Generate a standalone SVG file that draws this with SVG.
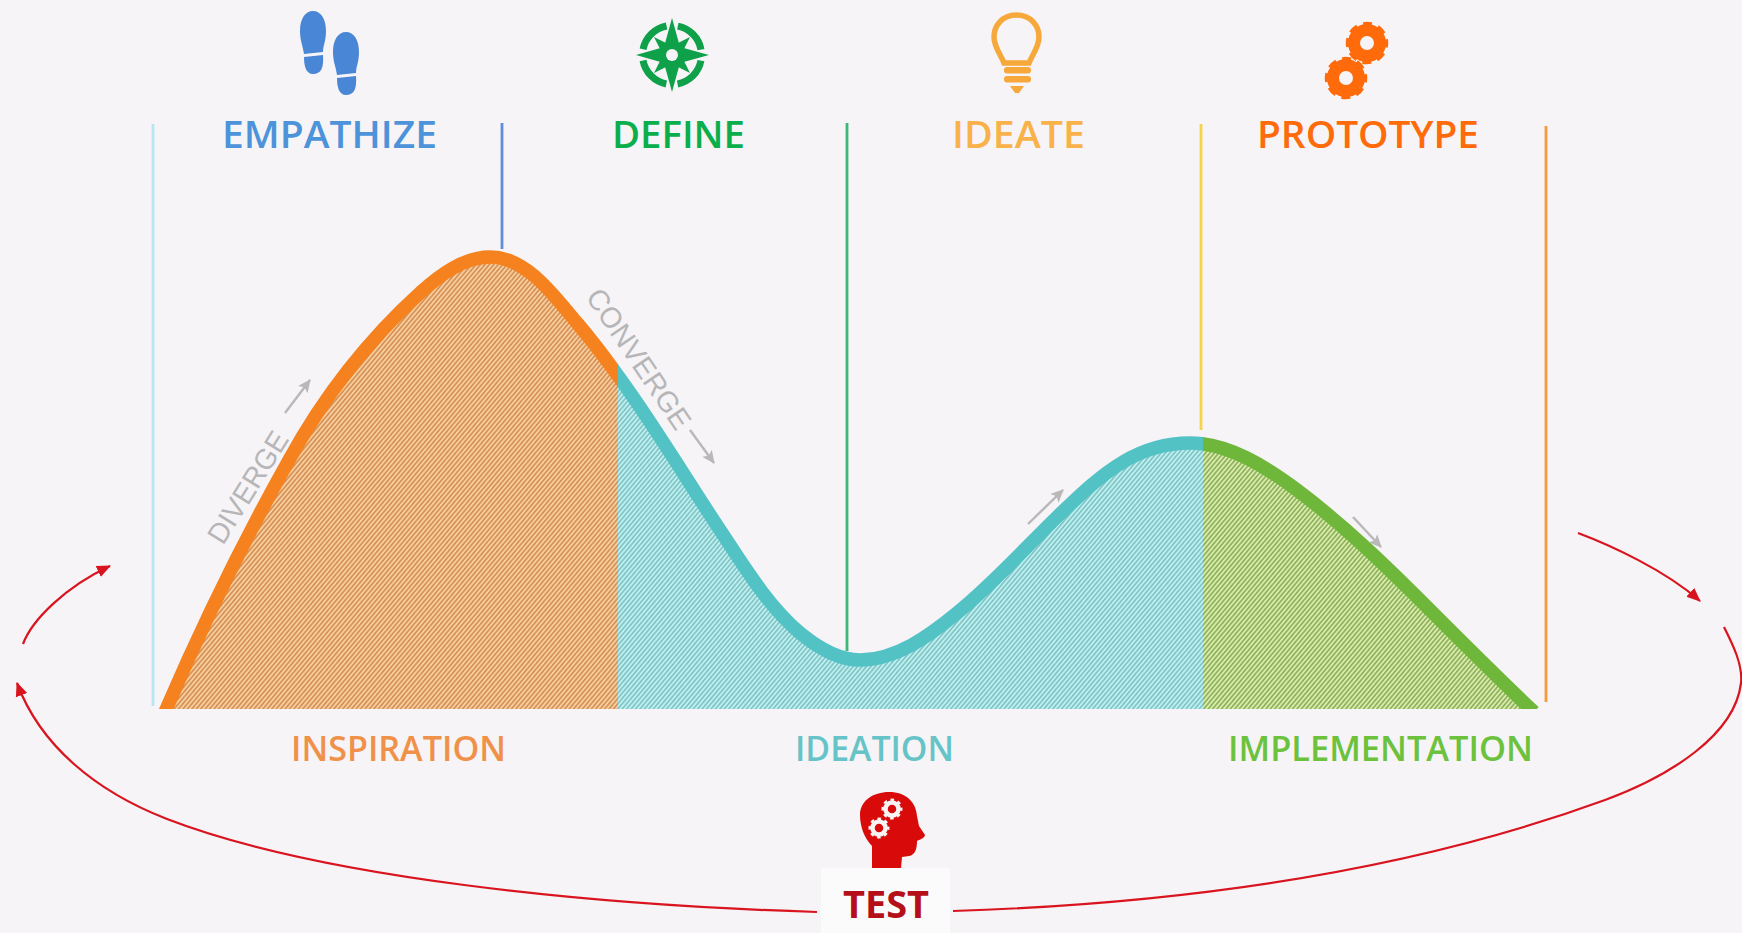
<svg xmlns="http://www.w3.org/2000/svg" xmlns:xlink="http://www.w3.org/1999/xlink" width="1742" height="933" viewBox="0 0 1742 933">
<style>
.h{font-family:"Open Sans","Liberation Sans",sans-serif;font-weight:600;font-size:38px}
.l{font-family:"Open Sans","Liberation Sans",sans-serif;font-weight:600;font-size:35px}
.g{font-family:"Liberation Sans",Arial,sans-serif;font-size:29px;fill:#b6b6b8}
.v{stroke-width:2.8;fill:none}
.r{fill:none;stroke:#d9141e;stroke-width:2.2}
.a{stroke:#b8b8b8;stroke-width:2.4;fill:none;marker-end:url(#ga)}
.c{fill:none;stroke-width:13.5}
</style>
<defs>
<pattern id="po" patternUnits="userSpaceOnUse" width="3.4" height="8" patternTransform="rotate(40)"><rect width="3.4" height="8" fill="#fbd2a2"/><rect width="1.8" height="8" fill="#d5935a"/></pattern>
<pattern id="pt" patternUnits="userSpaceOnUse" width="3.4" height="8" patternTransform="rotate(40)"><rect width="3.4" height="8" fill="#b6f3f4"/><rect width="1.5" height="8" fill="#86bcbc"/></pattern>
<pattern id="pg" patternUnits="userSpaceOnUse" width="3.4" height="8" patternTransform="rotate(40)"><rect width="3.4" height="8" fill="#d6f09e"/><rect width="1.6" height="8" fill="#8fab68"/></pattern>
<clipPath id="co"><rect x="140" y="200" width="478" height="509"/></clipPath>
<clipPath id="ct"><rect x="618" y="200" width="585" height="509"/></clipPath>
<clipPath id="cg"><rect x="1203" y="200" width="345" height="509"/></clipPath>
<path id="cv" d="M165,712 C202,626 243,542 289,460 C323,398 368,340 421,292 C440,275 464,257 490,257 C527,257 554,296 578,324 C631,387 674.5,461 720,530 C744,566 767,605 800,633 C817,647 838,660 860,660 C896,660 929,636 957,613 C993,584 1024,549 1057,517 C1078,497 1098,477 1123,462 C1143,450 1167,443 1190,443 C1229,443 1266,467 1297,490 C1345,526 1388,568 1430,610 C1465,645 1498,678 1534,712"/>
<path id="ar" d="M165,712 C202,626 243,542 289,460 C323,398 368,340 421,292 C440,275 464,257 490,257 C527,257 554,296 578,324 C631,387 674.5,461 720,530 C744,566 767,605 800,633 C817,647 838,660 860,660 C896,660 929,636 957,613 C993,584 1024,549 1057,517 C1078,497 1098,477 1123,462 C1143,450 1167,443 1190,443 C1229,443 1266,467 1297,490 C1345,526 1388,568 1430,610 C1465,645 1498,678 1534,712 Z"/>
<marker id="ga" markerUnits="userSpaceOnUse" markerWidth="14" markerHeight="14" refX="12" refY="7" orient="auto"><path d="M0,1 L13,7 L0,13 L3,7 Z" fill="#b8b8b8"/></marker>
<marker id="ra" markerUnits="userSpaceOnUse" markerWidth="16" markerHeight="14" refX="13" refY="7" orient="auto"><path d="M0,1 L14,7 L0,13 Z" fill="#d9141e"/></marker>
<path id="sole" d="M300,31 C300,19 305,11 313,11 C321,11 326,19 326,31 C326,41 323,46 323,52 L304,54 C303,46 300,41 300,31 Z M304,57 L323,55 C324,68 321,74 313,74 C306,74 304,66 304,57 Z"/>
<g id="gear"><circle r="13" fill="none" stroke="#ff6a0a" stroke-width="12"/><circle r="18.5" fill="none" stroke="#ff6a0a" stroke-width="5.5" stroke-dasharray="8.5 6.03" stroke-dashoffset="4.25"/></g>
<g id="wgear"><circle r="6.5" fill="none" stroke="#f8f4f4" stroke-width="4.5"/><circle r="9" fill="none" stroke="#f8f4f4" stroke-width="3" stroke-dasharray="3.5 3.57" stroke-dashoffset="1.75"/></g>
</defs>
<rect width="1742" height="933" fill="#f6f4f6"/>

<g id="curve">
<use xlink:href="#ar" href="#ar" fill="url(#po)" clip-path="url(#co)"/>
<use xlink:href="#ar" href="#ar" fill="url(#pt)" clip-path="url(#ct)"/>
<use xlink:href="#ar" href="#ar" fill="url(#pg)" clip-path="url(#cg)"/>
<use xlink:href="#cv" href="#cv" class="c" stroke="#f5821f" clip-path="url(#co)"/>
<use xlink:href="#cv" href="#cv" class="c" stroke="#52c2c4" clip-path="url(#ct)"/>
<use xlink:href="#cv" href="#cv" class="c" stroke="#6fb73a" clip-path="url(#cg)"/>
</g>

<g id="connectors">
<line class="v" x1="153" y1="124" x2="153" y2="706" stroke="#b8e6f4"/>
<line class="v" x1="502" y1="123" x2="502" y2="249" stroke="#5f8fdc"/>
<line class="v" x1="847" y1="123" x2="847" y2="651" stroke="#3cb878"/>
<line class="v" x1="1201" y1="124" x2="1201" y2="430" stroke="#f7d34a"/>
<line class="v" x1="1546" y1="126" x2="1546" y2="702" stroke="#f79a3c"/>
<path class="a" d="M285,413 L310,380"/>
<path class="a" d="M690,430 L714,463"/>
<path class="a" d="M1028,524 L1063,490"/>
<path class="a" d="M1353,517 L1381,547"/>
<path class="r" marker-end="url(#ra)" d="M23,644 C32,620 65,587 110,566"/>
<path class="r" marker-end="url(#ra)" d="M1578,533 C1610,545 1665,570 1700,601"/>
<path class="r" marker-end="url(#ra)" d="M817,912 C590,905 320,878 167,819 C95,791 40,745 17,683"/>
<path class="r" d="M953,911 C1170,904 1400,875 1605,800 C1670,776 1735,735 1741,683 C1743,665 1733,645 1724,627"/>
</g>

<g id="empathize">
<use xlink:href="#sole" href="#sole" fill="#4a86d6"/>
<use xlink:href="#sole" href="#sole" fill="#4a86d6" transform="translate(33,21)"/>
<text class="h" x="222" y="148" textLength="215" lengthAdjust="spacingAndGlyphs" fill="#4d93da">EMPATHIZE</text>
</g>
<g id="define">
<circle cx="672" cy="55" r="29.5" fill="none" stroke="#0fa04a" stroke-width="7" stroke-dasharray="35 11.33" stroke-dashoffset="-5.66"/>
<path fill="#0fa04a" d="M672,18 L680,47 L709,55 L680,63 L672,92 L664,63 L636,55 L664,47 Z"/>
<path fill="#0fa04a" d="M654,37 L672,46 L690,37 L681,55 L690,73 L672,64 L654,73 L663,55 Z"/>
<circle cx="672" cy="55" r="6" fill="#f6f4f6"/>
<text class="h" x="612" y="148" textLength="133" lengthAdjust="spacingAndGlyphs" fill="#0aae4a">DEFINE</text>
</g>
<g id="ideate">
<path fill="none" stroke="#f7a83a" stroke-width="5.5" d="M1016.5,15 C1031,15 1039,26 1039,37 C1039,47 1032,55 1029,63 L1004,63 C1001,55 994,47 994,37 C994,26 1002,15 1016.5,15 Z"/>
<rect x="1004" y="67" width="27" height="6.5" rx="3" fill="#f7a83a"/>
<rect x="1004" y="76" width="27" height="6.5" rx="3" fill="#f7a83a"/>
<path fill="#f7a83a" d="M1010,86 L1024,86 L1019,93 L1015,93 Z"/>
<text class="h" x="952" y="148" textLength="133" lengthAdjust="spacingAndGlyphs" fill="#f9b24a">IDEATE</text>
</g>
<g id="prototype">
<use xlink:href="#gear" href="#gear" transform="translate(1367,43)"/>
<use xlink:href="#gear" href="#gear" transform="translate(1346,78)"/>
<text class="h" x="1257" y="148" textLength="222" lengthAdjust="spacingAndGlyphs" fill="#ff6a0a">PROTOTYPE</text>
</g>
<g id="diverge-label"><text class="g" transform="translate(223,546) rotate(-58)" textLength="126" lengthAdjust="spacingAndGlyphs">DIVERGE</text></g>
<g id="converge-label"><text class="g" transform="translate(585,297) rotate(56)" textLength="163" lengthAdjust="spacingAndGlyphs">CONVERGE</text></g>
<g id="inspiration"><text class="l" x="291" y="761" textLength="215" lengthAdjust="spacingAndGlyphs" fill="#f0914a">INSPIRATION</text></g>
<g id="ideation"><text class="l" x="795" y="761" textLength="159" lengthAdjust="spacingAndGlyphs" fill="#66c4c8">IDEATION</text></g>
<g id="implementation"><text class="l" x="1228" y="761" textLength="305" lengthAdjust="spacingAndGlyphs" fill="#6cc23c">IMPLEMENTATION</text></g>
<g id="test">
<rect x="821" y="868" width="129" height="65" fill="#fbfbfb"/>
<path fill="#d80a0a" d="M872,868 L872,846 C864,838 860,826 860,815 C860,801 873,792 889,792 C906,792 916,802 917,816 L919,826 L925,835 C925,838 919,840 917,841 C917,849 915,855 909,856 L902,857 L901,868 Z"/>
<use xlink:href="#wgear" href="#wgear" transform="translate(892,809)"/>
<use xlink:href="#wgear" href="#wgear" transform="translate(879,828)"/>
<text x="843" y="918" font-family="'Open Sans','Liberation Sans',sans-serif" font-weight="700" font-size="37" textLength="86" lengthAdjust="spacingAndGlyphs" fill="#b5101a">TEST</text>
</g>
</svg>
